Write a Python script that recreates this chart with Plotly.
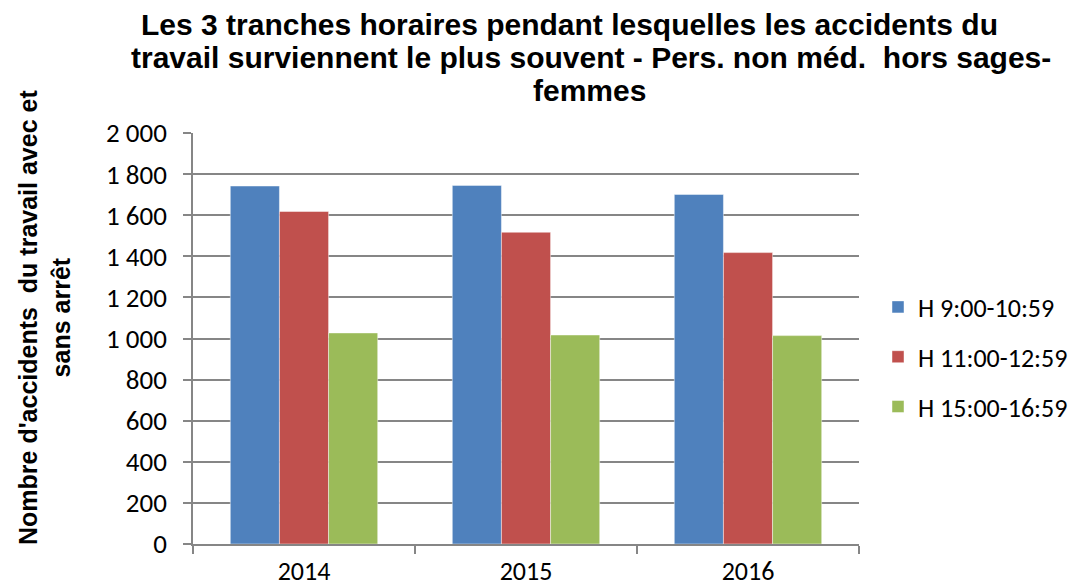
import plotly.graph_objects as go

years = ["2014", "2015", "2016"]
series_names = ["H 9:00-10:59", "H 11:00-12:59", "H 15:00-16:59"]
h_9_11 = [1742, 1745, 1701]
h_11_13 = [1618, 1517, 1418]
h_15_17 = [1027, 1017, 1014]
colors = ["#4F81BD", "#C0504D", "#9BBB59"]
y_ticks = [0, 200, 400, 600, 800, 1000, 1200, 1400, 1600, 1800, 2000]

title_lines = [
    "Les 3 tranches horaires pendant lesquelles les accidents du",
    "travail surviennent le plus souvent - Pers. non méd.  hors sages-",
    "femmes",
]
ytitle_text = "Nombre d'accidents  du travail avec et<br>sans arrêt"

label_font = "Carlito, Lato, 'Open Sans', sans-serif"
bold_font = "'Liberation Sans', Arial, sans-serif"

# plot area in pixels
L, R, T, B = 193, 859, 133, 544
W, H = R - L, B - T

def px_x(px):
    return (px - L) / W

def px_y(py):
    return (B - py) / H

fig = go.Figure()
for i, (name, vals) in enumerate(zip(series_names, [h_9_11, h_11_13, h_15_17])):
    fig.add_trace(go.Bar(
        x=years, y=vals, name=name, legendgroup=name,
        marker=dict(color=colors[i], line=dict(color="rgba(255,255,255,0.45)", width=1)),
    ))

fig.update_layout(
    width=1070, height=588,
    paper_bgcolor="white", plot_bgcolor="white",
    margin=dict(l=L, r=1070 - R, t=T, b=588 - B, autoexpand=False),
    barmode="group", bargap=0.336, bargroupgap=0,
    separators=", ",
    font=dict(family=label_font, size=26, color="#000000"),
    legend=dict(
        x=px_x(878), xanchor="left", y=px_y(357), yanchor="middle",
        font=dict(family=label_font, size=26, color="#000000"),
        tracegroupgap=13, traceorder="grouped",
        bgcolor="rgba(0,0,0,0)",
    ),
    showlegend=True,
)
fig.update_xaxes(
    type="category", showgrid=False, showline=True, linecolor="#868686", linewidth=1.5,
    ticks="outside", tickson="boundaries", ticklen=8, tickcolor="#868686", tickwidth=1.5,
    ticklabelstandoff=3, tickfont=dict(family=label_font, size=26), automargin=False,
)
fig.update_yaxes(
    range=[0, 2000], tickvals=y_ticks, tickformat=",d",
    showgrid=True, gridcolor="#868686", gridwidth=1.5,
    showline=True, linecolor="#868686", linewidth=1.5,
    ticks="outside", ticklen=8, tickcolor="#868686", tickwidth=1.5,
    ticklabelstandoff=11, tickfont=dict(family=label_font, size=27),
    zeroline=False, automargin=False,
)

title_centers = [(569, 24), (591, 57), (589, 90)]
for line, (cx, cy) in zip(title_lines, title_centers):
    fig.add_annotation(
        text=line, xref="paper", yref="paper", x=px_x(cx), y=px_y(cy),
        xanchor="center", yanchor="middle", showarrow=False,
        font=dict(family=bold_font, size=30, color="#000000", weight="bold"),
    )

fig.add_annotation(
    text=ytitle_text, xref="paper", yref="paper", x=px_x(44), y=px_y(318),
    xanchor="center", yanchor="middle", textangle=-90, showarrow=False,
    font=dict(family=bold_font, size=25, color="#000000", weight="bold"),
)
fig.write_html("out.html", config={"displayModeBar": False},
               post_script="document.body.style.margin='0';")
